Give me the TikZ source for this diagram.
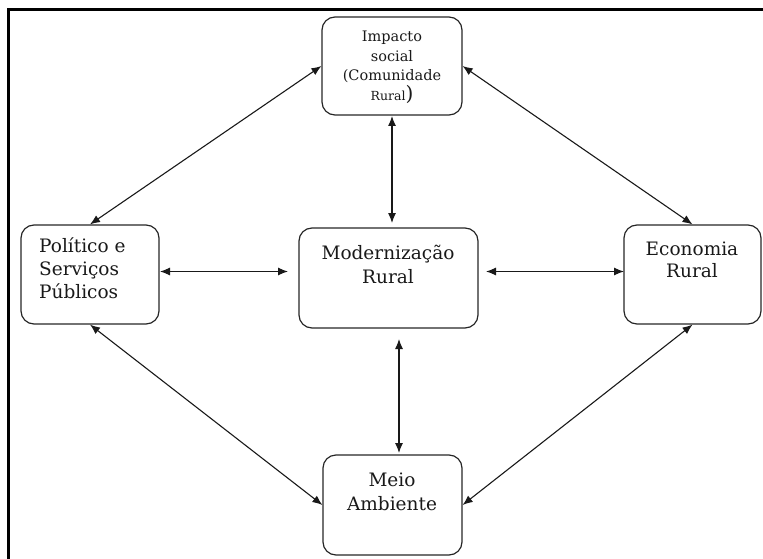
\documentclass[tikz,border=0pt]{standalone}
\usepackage{fontspec}
\setmainfont{DejaVu Serif}
\usetikzlibrary{arrows.meta,calc}
\begin{document}
\begin{tikzpicture}[x=1pt,y=-1pt,
  box/.style={draw=black!85, line width=1.2pt, rounded corners=13pt, inner sep=0pt},
  lab/.style={anchor=north, align=center, inner sep=0pt, text=black!90, font=\fontsize{18.5}{23}\selectfont},
  link/.style={{Latex[length=10pt,width=8pt]}-{Latex[length=10pt,width=8pt]}, line width=1.1pt, draw=black!90}]
\useasboundingbox (0,0) rectangle (763,559);
\draw[line width=3pt] (8,559) -- (8,10) -- (763,10);
% boxes
\node[box, minimum width=140pt, minimum height=98pt] (imp) at (392,66) {};
\node[box, minimum width=138pt, minimum height=99pt] (pol) at (90,274.5) {};
\node[box, minimum width=179pt, minimum height=100pt] (mod) at (388.5,278) {};
\node[box, minimum width=137pt, minimum height=99pt] (eco) at (692.5,274.5) {};
\node[box, minimum width=139pt, minimum height=100pt] (mei) at (392.5,505) {};
% texts
\node[lab, font=\fontsize{14.5}{19.5}\selectfont] (timp) at (392,31) {Impacto\\social\\(Comunidade\\{\fontsize{12.5}{19.5}\selectfont Rural}{\fontsize{20}{19.5}\selectfont )}};
\node[lab, align=left, anchor=north west] (tpol) at (39,238) {Político e\\Serviços\\Públicos};
\node[lab, font=\fontsize{18.5}{24}\selectfont] (tmod) at (388,245) {Modernização\\Rural};
\node[lab, font=\fontsize{18.5}{22}\selectfont] (teco) at (692,242) {Economia\\Rural};
\node[lab, font=\fontsize{18.5}{24}\selectfont] (tmei) at (392,473) {Meio\\Ambiente};
% connectors
\coordinate (a1) at (392,116);
\coordinate (a2) at (392,223);
\draw[link] (a1) -- (a2);
\coordinate (b1) at (160,271.5);
\coordinate (b2) at (288,271.5);
\draw[link] (b1) -- (b2);
\coordinate (c1) at (486,271.5);
\coordinate (c2) at (624,271.5);
\draw[link] (c1) -- (c2);
\coordinate (d1) at (399,339);
\coordinate (d2) at (399,453);
\draw[link] (d1) -- (d2);
\draw[link] (imp.west) -- (pol.north);
\draw[link] (imp.east) -- (eco.north);
\draw[link] (pol.south) -- (mei.west);
\draw[link] (eco.south) -- (mei.east);
\end{tikzpicture}
\end{document}
